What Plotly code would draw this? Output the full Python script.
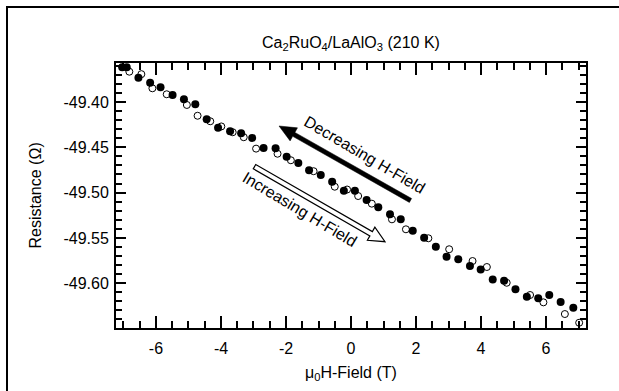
import plotly.graph_objects as go

# ---------------- data ----------------
dec_field = [-7.04, -6.90, -6.54, -6.18, -5.86, -5.49, -5.14, -4.79, -4.44, -4.09,
             -3.72, -3.38, -3.04, -2.69, -2.32, -1.98, -1.62, -1.29, -0.93, -0.58,
             -0.22, 0.12, 0.48, 0.84, 1.20, 1.53, 1.90, 2.25, 2.61, 2.94,
             3.30, 3.66, 3.99, 4.36, 4.71, 5.06, 5.41, 5.76, 6.10, 6.45, 6.84]
dec_res = [-49.3617, -49.3617, -49.3732, -49.3787, -49.3838, -49.3923, -49.3969, -49.4024,
           -49.4191, -49.4284, -49.4323, -49.4345, -49.4397, -49.4508, -49.4511, -49.4604,
           -49.4673, -49.4754, -49.4806, -49.4880, -49.4979, -49.4979, -49.5082, -49.5162,
           -49.5238, -49.5295, -49.5421, -49.5499, -49.5597, -49.5708, -49.5735, -49.5809,
           -49.5849, -49.5959, -49.5972, -49.6067, -49.6149, -49.6167, -49.6130, -49.6208,
           -49.6270]

inc_field = [-6.82, -6.45, -6.11, -5.67, -5.05, -4.72, -4.33, -3.99, -3.64, -3.30,
             -2.92, -2.26, -1.85, -1.15, -0.50, -0.12, 0.22, 0.64, 1.26, 1.69,
             2.38, 3.02, 3.74, 4.18, 4.79, 5.51, 5.92, 6.58, 7.02]
inc_res = [-49.3666, -49.3693, -49.3849, -49.3915, -49.4033, -49.4152, -49.4213, -49.4270,
           -49.4334, -49.4389, -49.4515, -49.4571, -49.4643, -49.4764, -49.4935, -49.4966,
           -49.5038, -49.5122, -49.5295, -49.5405, -49.5504, -49.5625, -49.5755, -49.5821,
           -49.5995, -49.6130, -49.6211, -49.6340, -49.6436]

x_tickvals = [-6, -4, -2, 0, 2, 4, 6]
x_ticktext = ["-6", "-4", "-2", "0", "2", "4", "6"]
y_tickvals = [-49.60, -49.55, -49.50, -49.45, -49.40]
y_ticktext = ["-49.60", "-49.55", "-49.50", "-49.45", "-49.40"]

title_text = "Ca<sub>2</sub>RuO<sub>4</sub>/LaAlO<sub>3</sub> (210 K)"
x_title = "\u03bc<sub>0</sub>H-Field (T)"
y_title = "Resistance (\u03a9)"
dec_label = "Decreasing H-Field"
inc_label = "Increasing H-Field"

# arrow end points (data coordinates): tail -> head
dec_arrow = ((1.831, -49.5087), (-2.215, -49.4265))
inc_arrow = ((-2.969, -49.4714), (1.046, -49.5542))
dec_label_pos = (0.40, -49.4585)
inc_label_pos = (-1.57, -49.5182)

# ---------------- layout geometry ----------------
W, H = 619, 391
ML, MR, MT, MB = 116, 33, 63, 63
XR = [-7.23, 7.23]
YR = [-49.6494, -49.357]
PW = W - ML - MR
PH = H - MT - MB
SX = PW / (XR[1] - XR[0])
SY = PH / (YR[1] - YR[0])
FONT = "Arial, Liberation Sans, sans-serif"


def arrow_path(tail, head, shaft_w, head_w, head_len):
    tx, ty = tail[0] * SX, -tail[1] * SY
    hx, hy = head[0] * SX, -head[1] * SY
    dx, dy = hx - tx, hy - ty
    L = (dx * dx + dy * dy) ** 0.5
    dx, dy = dx / L, dy / L
    nx, ny = -dy, dx
    bx, by = hx - dx * head_len, hy - dy * head_len
    pts = [
        (tx + nx * shaft_w / 2, ty + ny * shaft_w / 2),
        (bx + nx * shaft_w / 2, by + ny * shaft_w / 2),
        (bx + nx * head_w / 2, by + ny * head_w / 2),
        (hx, hy),
        (bx - nx * head_w / 2, by - ny * head_w / 2),
        (bx - nx * shaft_w / 2, by - ny * shaft_w / 2),
        (tx - nx * shaft_w / 2, ty - ny * shaft_w / 2),
    ]
    s = ""
    for i, (px, py) in enumerate(pts):
        s += ("M " if i == 0 else " L ") + f"{px / SX:.5f},{-py / SY:.6f}"
    return s + " Z"


fig = go.Figure()
fig.add_trace(go.Scatter(
    x=inc_field, y=inc_res, mode="markers", name="increasing",
    marker=dict(symbol="circle-open", size=7, color="black", line=dict(width=1, color="black")),
))
fig.add_trace(go.Scatter(
    x=dec_field, y=dec_res, mode="markers", name="decreasing",
    marker=dict(symbol="circle", size=8, color="black", line=dict(width=0)),
))

fig.update_layout(
    width=W, height=H,
    margin=dict(l=ML, r=MR, t=MT, b=MB, pad=0),
    paper_bgcolor="white", plot_bgcolor="white",
    showlegend=False,
    font=dict(family=FONT, size=16, color="black"),
    xaxis=dict(
        range=XR, showgrid=False, zeroline=False,
        showline=True, linecolor="black", linewidth=2, mirror="ticks",
        ticks="inside", ticklen=12, tickwidth=1.5, tickcolor="black",
        tickmode="array", tickvals=x_tickvals, ticktext=x_ticktext,
        tickfont=dict(family=FONT, size=16, color="black"),
        ticklabelstandoff=5,
        minor=dict(dtick=0.5, tick0=0, ticks="inside", ticklen=7, tickwidth=1.5,
                   tickcolor="black", showgrid=False),
    ),
    yaxis=dict(
        range=YR, showgrid=False, zeroline=False,
        showline=True, linecolor="black", linewidth=2, mirror="ticks",
        ticks="inside", ticklen=10, tickwidth=1.5, tickcolor="black",
        tickmode="array", tickvals=y_tickvals, ticktext=y_ticktext,
        tickfont=dict(family=FONT, size=16, color="black"),
        ticklabelstandoff=2,
        minor=dict(dtick=0.01, tick0=-49.40, ticks="inside", ticklen=6, tickwidth=1.5,
                   tickcolor="black", showgrid=False),
    ),
)

# arrows
fig.add_shape(type="path", xref="x", yref="y",
              path=arrow_path(dec_arrow[0], dec_arrow[1], 4.5, 15, 17),
              fillcolor="black", line=dict(color="black", width=0.5))
fig.add_shape(type="path", xref="x", yref="y",
              path=arrow_path(inc_arrow[0], inc_arrow[1], 5, 15, 16),
              fillcolor="white", line=dict(color="black", width=1.2))

# outer frame (extends past the right/bottom edges of the picture)
fig.add_shape(type="rect", xref="paper", yref="paper",
              x0=(7 - ML) / PW, x1=(640 - ML) / PW,
              y0=(H - MB - 410) / PH, y1=(H - MB - 7) / PH,
              line=dict(color="black", width=2), fillcolor="rgba(0,0,0,0)", layer="below")

# texts
fig.add_annotation(text=title_text, xref="paper", yref="paper",
                   x=0.5, y=(H - MB - 43) / PH, xanchor="center", yanchor="middle",
                   showarrow=False, font=dict(family=FONT, size=16, color="black"))
fig.add_annotation(text=x_title, xref="paper", yref="paper",
                   x=(351 - ML) / PW, y=(H - MB - 373) / PH, xanchor="center", yanchor="middle",
                   showarrow=False, font=dict(family=FONT, size=16, color="black"))
fig.add_annotation(text=y_title, xref="paper", yref="paper",
                   x=(35 - ML) / PW, y=0.5, xanchor="center", yanchor="middle", textangle=-90,
                   showarrow=False, font=dict(family=FONT, size=16, color="black"))
fig.add_annotation(text=dec_label, xref="x", yref="y",
                   x=dec_label_pos[0], y=dec_label_pos[1], textangle=30.5,
                   showarrow=False, font=dict(family=FONT, size=16, color="black"))
fig.add_annotation(text=inc_label, xref="x", yref="y",
                   x=inc_label_pos[0], y=inc_label_pos[1], textangle=31,
                   showarrow=False, font=dict(family=FONT, size=16, color="black"))

fig.write_html("out.html")
